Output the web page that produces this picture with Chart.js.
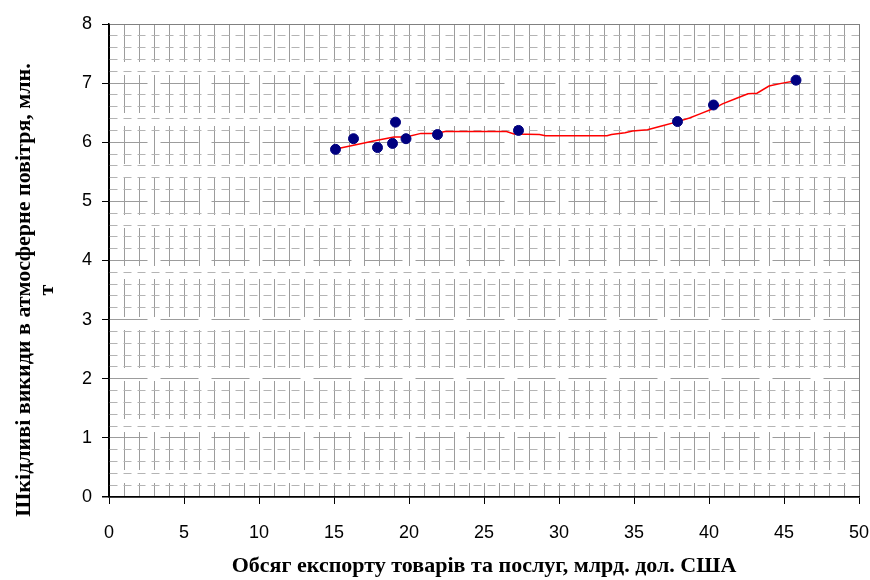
<!DOCTYPE html>
<html>
<head>
<meta charset="utf-8">
<script src="https://cdn.jsdelivr.net/npm/chart.js@4.4.1/dist/chart.umd.min.js"></script>
<style>
  html, body { margin: 0; padding: 0; background: #ffffff; }
  #wrap { position: relative; width: 870px; height: 580px; }
  #ytitle {
    position: absolute;
    width: 520px; height: 46px;
    left: -225.9px; top: 267px;
    transform: rotate(-90deg);
    transform-origin: 50% 50%;
    font: bold 22px "Liberation Serif", "Times New Roman", serif;
    line-height: 23px;
    text-align: center;
    color: #000;
    white-space: nowrap;
  }
</style>
</head>
<body>
<div id="wrap">
  <canvas id="c" width="870" height="580"></canvas>
  <div id="ytitle">Шкідливі викиди в атмосферне повітря, млн.<br>т</div>
</div>
<script>
// Observed data points: export volume (bn USD) vs harmful emissions (mln t)
const pointsX = [15.1, 16.3, 17.9, 18.9, 19.1, 19.8, 21.9, 27.3, 37.9, 40.3, 45.8];
const pointsY = [5.88, 6.06, 5.91, 5.98, 6.34, 6.06, 6.13, 6.20, 6.35, 6.63, 7.05];

// Red smoothed trend line
const trendX = [15.2, 16.3, 17.8, 19.0, 19.8, 20.8, 21.8, 22.4, 23.8, 26.5, 27.0, 28.7, 29.1, 33.2, 33.5, 34.4, 34.9, 35.9, 36.9, 37.8, 38.7, 39.4, 40.3, 40.9, 41.8, 42.6, 43.2, 44.0, 44.9, 45.8];
const trendY = [5.89, 5.95, 6.03, 6.09, 6.09, 6.15, 6.15, 6.18, 6.18, 6.18, 6.14, 6.13, 6.11, 6.11, 6.13, 6.16, 6.19, 6.21, 6.28, 6.34, 6.41, 6.48, 6.57, 6.65, 6.74, 6.82, 6.83, 6.95, 7.00, 7.04];

// Axis settings
const xMin = 0, xMax = 50, xLabelStep = 5;
const yMin = 0, yMax = 8, yMinorStep = 0.2;
const xTitle = 'Обсяг експорту товарів та послуг, млрд. дол. США';

const pts = pointsX.map((x, i) => ({ x: x, y: pointsY[i] }));
const trend = trendX.map((x, i) => ({ x: x, y: trendY[i] }));

const isInt = v => Math.abs(v - Math.round(v)) < 1e-6;
const isMult5 = v => isInt(v) && Math.round(v) % xLabelStep === 0;

new Chart(document.getElementById('c'), {
  type: 'scatter',
  data: {
    datasets: [
      {
        label: 'points',
        data: pts,
        backgroundColor: '#000080',
        borderColor: '#000080',
        borderWidth: 1,
        pointRadius: 5,
        pointHoverRadius: 5,
        order: 0
      },
      {
        type: 'line',
        label: 'trend',
        data: trend,
        borderColor: '#ff0000',
        borderWidth: 1.5,
        pointRadius: 0,
        tension: 0,
        fill: false,
        order: 1
      }
    ]
  },
  options: {
    responsive: false,
    animation: false,
    devicePixelRatio: 1,
    layout: { padding: { left: 0, right: 11, top: 24, bottom: 0 } },
    plugins: { legend: { display: false }, tooltip: { enabled: false } },
    scales: {
      x: {
        type: 'linear',
        min: xMin, max: xMax,
        afterFit: s => { s.height = 83; s.paddingRight = 0; s.paddingLeft = 0; },
        ticks: {
          stepSize: 1,
          autoSkip: false,
          maxRotation: 0,
          padding: 18,
          color: '#000',
          font: { family: '"Liberation Sans", Arial, sans-serif', size: 18 },
          callback: v => (isMult5(v) ? String(Math.round(v)) : '')
        },
        grid: {
          drawTicks: true,
          tickLength: 7,
          lineWidth: 1,
          color: ctx => {
            if (!ctx.tick) return '#9c9c9c';
            const v = Math.round(ctx.tick.value);
            if (v === xMax) return '#808080';
            if (v === xMin) return '#000';
            return '#9c9c9c';
          },
          tickColor: ctx => (ctx.tick && isMult5(ctx.tick.value) ? '#000' : 'rgba(0,0,0,0)')
        },
        border: {
          display: true, color: '#000', width: 1.5,
          dash: ctx => {
            if (!ctx.tick) return [];
            const v = Math.round(ctx.tick.value);
            return (v === xMax || v === xMin) ? [] : [38, 13];
          }
        },
        title: {
          display: true,
          text: xTitle,
          color: '#000',
          font: { family: '"Liberation Serif", "Times New Roman", serif', size: 22, weight: 'bold' },
          padding: { top: 0, bottom: 0 }
        }
      },
      y: {
        type: 'linear',
        min: yMin, max: yMax,
        afterFit: s => { s.width = 109; },
        ticks: {
          stepSize: yMinorStep,
          autoSkip: false,
          padding: 10,
          color: '#000',
          font: { family: '"Liberation Sans", Arial, sans-serif', size: 18 },
          callback: v => (isInt(v) ? String(Math.round(v)) : '')
        },
        grid: {
          drawTicks: true,
          tickLength: 7,
          lineWidth: ctx => (ctx.tick && Math.abs(ctx.tick.value - yMin) < 1e-6 ? 1.5 : 1),
          color: ctx => {
            if (!ctx.tick) return '#b4b4b4';
            const v = ctx.tick.value;
            if (Math.abs(v - yMax) < 1e-6) return '#808080';
            if (Math.abs(v - yMin) < 1e-6) return '#000';
            return isInt(v) ? '#9c9c9c' : '#b4b4b4';
          },
          tickColor: ctx => (ctx.tick && isInt(ctx.tick.value) ? '#000' : 'rgba(0,0,0,0)')
        },
        border: {
          display: true, color: '#000', width: 1.5,
          dash: ctx => {
            if (!ctx.tick) return [];
            const v = ctx.tick.value;
            if (Math.abs(v - yMax) < 1e-6 || Math.abs(v - yMin) < 1e-6) return [];
            return isInt(v) ? [38, 13] : [8, 6];
          }
        }
      }
    }
  }
});
</script>
</body>
</html>
